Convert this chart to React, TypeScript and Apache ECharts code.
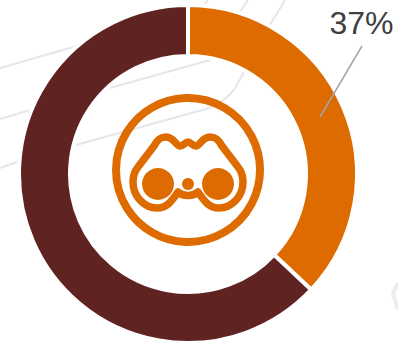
import React, { useEffect, useRef } from "react";
import * as echarts from "echarts";

const categories = ["Yes", "No"];
const shares = [37, 63];
const sliceColors = ["#DD6B00", "#5F2322"];

// Faint street-map strokes sitting behind the ring.
const backdropStrokes: number[][][] = [
  [[0, 68], [77, 46]],
  [[0, 119], [30, 110]],
  [[0, 168], [17, 162]],
  [[110, 88], [210, 60]],
  [[76, 145], [213, 107], [226, 98], [234, 90], [244, 72]],
  [[208, 0], [204, 5]],
  [[248, 0], [240, 12]],
  [[285, 0], [270, 25]],
];
const backdropCorner: number[][] = [[398, 283], [393, 293], [398, 310]];

const binocularsPath =
  "M188,142 C185,142 184,146 180,146 C176,146 174,137 166,137 C160,137 157,140 154,146 " +
  "L138,167 C134,172 133,176 133,182 C133,197 145,208 157,208 C168,208 173,199 178,192 " +
  "C181,195 184,195.5 188,195.5 C192,195.5 195,195 198,192 C203,199 208,208 219,208 " +
  "C231,208 243,197 243,182 C243,176 242,172 238,167 L222,146 C219,140 216,137 210,137 " +
  "C202,137 200,146 196,146 C192,146 191,142 188,142 Z";

echarts.graphic.registerShape(
  "binoculars",
  echarts.graphic.extendPath(binocularsPath, {}) as any
);

export default function App() {
  const ref = useRef<HTMLDivElement>(null);

  useEffect(() => {
    const chart = echarts.init(ref.current!, undefined, { renderer: "svg" });
    const orange = sliceColors[0];
    chart.setOption({
      animation: false,
      backgroundColor: "#ffffff",
      graphic: [
        ...backdropStrokes.map((points) => ({
          type: "polyline",
          z: 0,
          silent: true,
          shape: { points },
          style: { stroke: "#e6e6e6", lineWidth: 2, fill: "none" },
        })),
        {
          type: "polyline",
          z: 0,
          silent: true,
          shape: { points: backdropCorner },
          style: { stroke: "#ececec", lineWidth: 4, fill: "none" },
        },
        {
          type: "circle",
          z: 10,
          silent: true,
          shape: { cx: 188, cy: 170, r: 72 },
          style: { stroke: orange, lineWidth: 8, fill: "none" },
        },
        {
          type: "binoculars",
          z: 10,
          x: 0,
          y: 0,
          silent: true,
          style: { stroke: orange, lineWidth: 7.5, fill: "none", lineJoin: "round" },
        },
        {
          type: "circle",
          z: 10,
          silent: true,
          shape: { cx: 158, cy: 184, r: 16 },
          style: { fill: orange },
        },
        {
          type: "circle",
          z: 10,
          silent: true,
          shape: { cx: 218, cy: 184, r: 16 },
          style: { fill: orange },
        },
        {
          type: "circle",
          z: 10,
          silent: true,
          shape: { cx: 188, cy: 184, r: 6 },
          style: { fill: orange },
        },
        {
          type: "line",
          z: 10,
          silent: true,
          shape: { x1: 362, y1: 46, x2: 320, y2: 117 },
          style: { stroke: "#a6a6a6", lineWidth: 1.5 },
        },
      ],
      series: [
        {
          type: "pie",
          silent: true,
          center: [188, 174],
          radius: [118, 169],
          startAngle: 90,
          clockwise: true,
          avoidLabelOverlap: false,
          itemStyle: { borderColor: "#ffffff", borderWidth: 4 },
          labelLine: { show: false },
          data: categories.map((name, i) => ({
            name,
            value: shares[i],
            itemStyle: { color: sliceColors[i] },
            label:
              i === 0
                ? {
                    show: true,
                    position: "outside",
                    formatter: "{c}%",
                    color: "#404040",
                    fontFamily: "Liberation Sans",
                    fontSize: 32,
                  }
                : { show: false },
          })),
          labelLayout: (params: any) =>
            params.dataIndex === 0
              ? { x: 361.5, y: 23, align: "center", verticalAlign: "middle" }
              : {},
        },
      ],
    });
    return () => chart.dispose();
  }, []);

  return (
    <div
      ref={ref}
      style={{ position: "fixed", left: 0, top: 0, width: 398, height: 344 }}
    />
  );
}
